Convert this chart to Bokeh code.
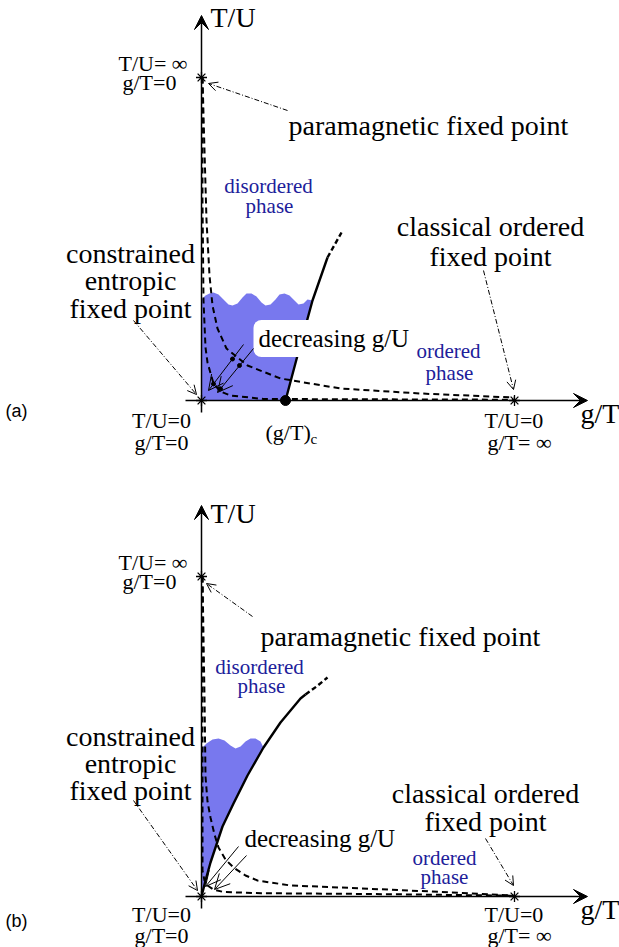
from bokeh.plotting import figure
from bokeh.layouts import column
from bokeh.models import Range1d, Arrow, VeeHead, OpenHead, Label
from bokeh.core.properties import value
from bokeh.embed import file_html
from bokeh.resources import INLINE

SERIF = "Liberation Serif"
SANS = "Liberation Sans"
INK = "black"
PHASE_BLUE = "#20209a"
SHADE = "#7878ee"

# Schematic coordinates: x = g/T direction, y = T/U direction, origin at the
# constrained entropic fixed point.  Fixed points sit at the axis ends.

# ---------------- panel (a): finite critical coupling (g/T)_c ----------------
A_FIXED_X = [0, 0, 313]
A_FIXED_Y = [323, 0, 0]
A_GC = 84                      # (g/T)_c on the horizontal axis

A_OUTER_X = [1, 3, 5, 8, 11, 16, 25, 46, 79, 139, 219, 312]
A_OUTER_Y = [323, 250, 180, 125, 95, 72, 52, 35, 22, 12, 7, 3]
A_INNER_X = [1, 1, 2, 4, 6, 12, 19, 29, 62, 312]
A_INNER_Y = [323, 200, 100, 53, 38, 17, 9, 5, 1.5, 0.8]

A_CRIT_X = [84, 96, 111, 126]
A_CRIT_Y = [0, 45, 100, 143]
A_CRIT_EXT_X = [126, 140]
A_CRIT_EXT_Y = [143, 168]

A_WAVE_X = [0, 4, 8, 12, 17, 22, 27, 31, 36, 41, 45, 50, 55, 60, 64, 69,
            74, 78, 83, 88, 93, 97, 102, 106, 111]
A_WAVE_Y = [101, 105, 107, 108, 106, 101, 96, 95, 97, 103, 107, 107, 104,
            98, 95, 96, 101, 106, 107, 105, 100, 96, 97, 101, 100]

A_FLOW_START = [(42, 56), (52, 52)]
A_FLOW_END = [(7, 10), (16, 8)]
A_FLOW_DOT_X = [31, 12, 38, 19]
A_FLOW_DOT_Y = [41.5, 16.6, 35, 11.7]

A_POINTERS = [((86, 290), (7, 317)),       # paramagnetic
              ((282, 130), (312, 11)),     # classical ordered
              ((-68, 80), (-5, 6))]        # constrained entropic

# ---------------- panel (b): critical line ending at the origin --------------
B_FIXED_X = [0, 0, 313]
B_FIXED_Y = [320, 0, 0]

B_OUTER_X = [1, 3, 4, 6, 9, 13, 17, 24, 32, 44, 56, 89, 139, 230, 312]
B_OUTER_Y = [320, 200, 120, 95, 79, 62, 49, 37, 29, 21, 16, 11, 9, 5, 1]
B_INNER_X = [1, 1, 1, 3, 6, 12, 22, 60, 169, 312]
B_INNER_Y = [320, 120, 26, 16, 11, 7, 4.5, 3.3, 2.5, 0.8]

B_CRIT_X = [0, 4, 9, 14, 21, 32, 46, 62, 79, 99, 104]
B_CRIT_Y = [0, 16, 34, 49, 70, 93, 121, 149, 174, 198, 202]
B_CRIT_EXT_X = [104, 115, 126]
B_CRIT_EXT_Y = [202, 210, 219]

B_WAVE_X = [0, 5, 11, 17, 23, 29, 34, 39, 44, 49, 54, 59, 62]
B_WAVE_Y = [148, 153, 157, 158, 156, 151, 148, 150, 155, 158, 158, 155, 149]

B_FLOW_START = [(37, 50), (45, 41)]
B_FLOW_END = [(4, 10), (13, 7)]

B_POINTERS = [((51, 280), (5, 313)),
              ((284, 58), (312, 11)),
              ((-68, 96), (-4, 6))]


def base_panel(height, y_top):
    p = figure(width=619, height=height,
               x_range=Range1d(-201, 418), y_range=Range1d(y_top - height, y_top),
               x_axis_location=None, y_axis_location=None,
               output_backend="svg", toolbar_location=None, min_border=0)
    p.grid.visible = False
    p.outline_line_color = None
    p.min_border_left = p.min_border_right = 0
    p.min_border_top = p.min_border_bottom = 0
    p.background_fill_color = "white"
    p.border_fill_color = "white"
    return p


def put_text(p, xs, ys, texts, size, align="center", baseline="alphabetic",
             color=INK, font=SERIF):
    p.text(x=xs, y=ys, text=texts, text_font=value(font), text_font_size=size,
           text_align=align, text_baseline=baseline, text_color=color)


def draw_axes(p, y_top):
    p.add_layout(Arrow(end=VeeHead(size=14, fill_color=INK, line_color=INK, line_width=1),
                       x_start=-16, y_start=0, x_end=386, y_end=0, line_width=1.5))
    p.add_layout(Arrow(end=VeeHead(size=14, fill_color=INK, line_color=INK, line_width=1),
                       x_start=0, y_start=-12, x_end=0, y_end=y_top, line_width=1.5))


def draw_pointers(p, pointers):
    for (xs, ys), (xe, ye) in pointers:
        p.add_layout(Arrow(end=OpenHead(size=9, line_width=1, line_color=INK),
                           x_start=xs, y_start=ys, x_end=xe, y_end=ye,
                           line_width=1, line_dash="5 2 1 2", line_color=INK))


def draw_flow_arrows(p, starts, ends):
    for (xs, ys), (xe, ye) in zip(starts, ends):
        p.add_layout(Arrow(end=OpenHead(size=15, line_width=1, line_color=INK),
                           x_start=xs, y_start=ys, x_end=xe, y_end=ye,
                           line_width=1, line_color=INK))


# ============================== panel (a) ====================================
pa = base_panel(473, 400)

shade_ax = A_WAVE_X + A_CRIT_X[1::-1] + [0]
shade_ay = A_WAVE_Y + A_CRIT_Y[1::-1] + [0]
pa.patch(shade_ax, shade_ay, fill_color=SHADE, line_color=None)

draw_axes(pa, 385)
pa.line(A_OUTER_X, A_OUTER_Y, line_color=INK, line_width=2, line_dash="6 4")
pa.line(A_INNER_X, A_INNER_Y, line_color=INK, line_width=2, line_dash="6 4")
pa.line(A_CRIT_X, A_CRIT_Y, line_color=INK, line_width=2.4)
pa.line(A_CRIT_EXT_X, A_CRIT_EXT_Y, line_color=INK, line_width=2.4, line_dash="5 3")

pa.add_layout(Label(x=52, y=62, text="decreasing g/U", text_font=SERIF,
                    text_font_size="25px", text_align="left", text_baseline="alphabetic",
                    text_color=INK, background_fill_color="white",
                    border_radius=8, padding=5))
draw_flow_arrows(pa, A_FLOW_START, A_FLOW_END)
pa.scatter(A_FLOW_DOT_X, A_FLOW_DOT_Y, size=4, color=INK)
draw_pointers(pa, A_POINTERS)

pa.scatter(A_FIXED_X, A_FIXED_Y, marker="asterisk", size=11, line_color=INK, line_width=1.3)
pa.scatter([A_GC], [0], size=10, color=INK)

put_text(pa, [9], [383], ["T/U"], "28px", align="left", baseline="middle")
put_text(pa, [379], [-13], ["g/T"], "28px", align="left", baseline="middle")
put_text(pa, [-83, -79], [337, 318], ["T/U= \u221e", "g/T=0"], "22px", align="left", baseline="middle")
put_text(pa, [87], [275], ["paramagnetic fixed point"], "28px", align="left")
put_text(pa, [67, 68], [215, 195], ["disordered", "phase"], "21px", color=PHASE_BLUE)
put_text(pa, [-71, -71, -71], [147, 120, 92], ["constrained", "entropic", "fixed point"], "28px")
put_text(pa, [289, 289], [174, 144], ["classical ordered", "fixed point"], "28px")
put_text(pa, [247, 248], [50, 28], ["ordered", "phase"], "21px", color=PHASE_BLUE)
put_text(pa, [-40, -40], [-20, -42], ["T/U=0", "g/T=0"], "22px", baseline="middle")
put_text(pa, [283, 286], [-20, -42], ["T/U=0", "g/T= \u221e"], "22px", align="left", baseline="middle")
put_text(pa, [64], [-32], ["(g/T)"], "22px", align="left", baseline="middle")
put_text(pa, [109], [-38], ["c"], "15px", align="left", baseline="middle")
put_text(pa, [-196], [-10], ["(a)"], "18px", align="left", baseline="middle", font=SANS)

# ============================== panel (b) ====================================
pb = base_panel(474, 423)

shade_bx = B_WAVE_X + B_CRIT_X[-4::-1]
shade_by = B_WAVE_Y + B_CRIT_Y[-4::-1]
pb.patch(shade_bx, shade_by, fill_color=SHADE, line_color=None)

draw_axes(pb, 391)
pb.line(B_OUTER_X, B_OUTER_Y, line_color=INK, line_width=2, line_dash="6 4")
pb.line(B_INNER_X, B_INNER_Y, line_color=INK, line_width=2, line_dash="6 4")
pb.line(B_CRIT_X, B_CRIT_Y, line_color=INK, line_width=2.4)
pb.line(B_CRIT_EXT_X, B_CRIT_EXT_Y, line_color=INK, line_width=2.4, line_dash="5 3")

draw_flow_arrows(pb, B_FLOW_START, B_FLOW_END)
draw_pointers(pb, B_POINTERS)
pb.scatter(B_FIXED_X, B_FIXED_Y, marker="asterisk", size=11, line_color=INK, line_width=1.3)

put_text(pb, [9], [383], ["T/U"], "28px", align="left", baseline="middle")
put_text(pb, [379], [-13], ["g/T"], "28px", align="left", baseline="middle")
put_text(pb, [-83, -79], [334, 315], ["T/U= \u221e", "g/T=0"], "22px", align="left", baseline="middle")
put_text(pb, [59], [260], ["paramagnetic fixed point"], "28px", align="left")
put_text(pb, [58, 60], [230, 211], ["disordered", "phase"], "21px", color=PHASE_BLUE)
put_text(pb, [-71, -71, -71], [160, 133, 106], ["constrained", "entropic", "fixed point"], "28px")
put_text(pb, [284, 284], [103, 75], ["classical ordered", "fixed point"], "28px")
put_text(pb, [43], [58], ["decreasing g/U"], "25px", align="left")
put_text(pb, [243, 243], [39, 20], ["ordered", "phase"], "21px", color=PHASE_BLUE)
put_text(pb, [-40, -40], [-18, -39], ["T/U=0", "g/T=0"], "22px", baseline="middle")
put_text(pb, [283, 286], [-18, -39], ["T/U=0", "g/T= \u221e"], "22px", align="left", baseline="middle")
put_text(pb, [-196], [-24], ["(b)"], "18px", align="left", baseline="middle", font=SANS)

layout = column(pa, pb)
open("out.html", "w").write(file_html(layout, INLINE))
